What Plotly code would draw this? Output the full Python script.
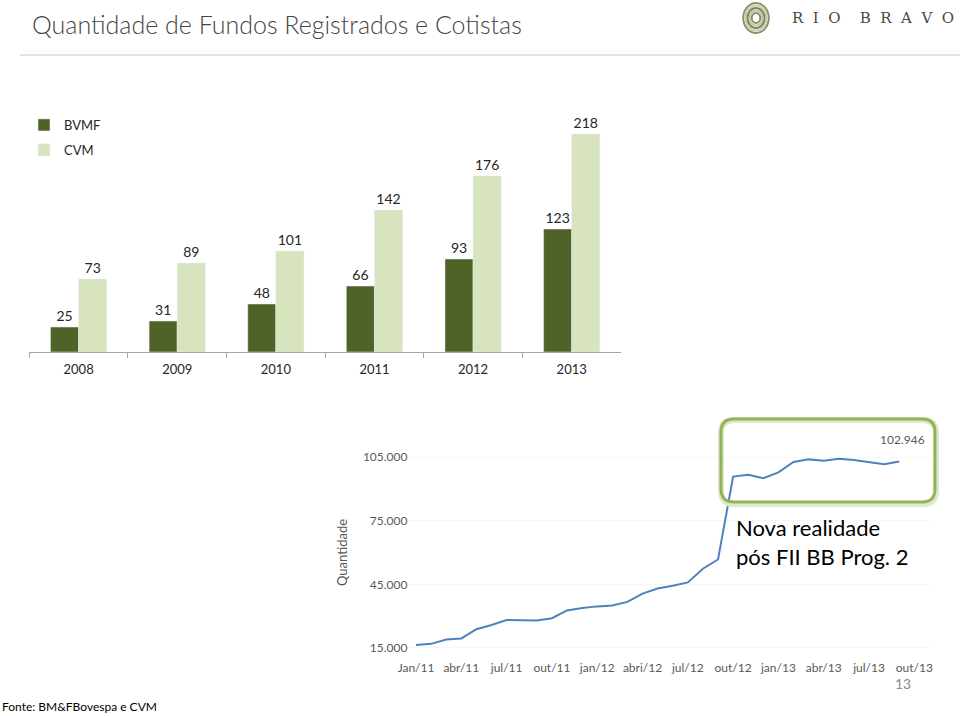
import plotly.graph_objects as go

# ---------------- data ----------------
years = ["2008", "2009", "2010", "2011", "2012", "2013"]
bvmf = [25, 31, 48, 66, 93, 123]
cvm = [73, 89, 101, 142, 176, 218]

months = ["Jan/11", "fev/11", "mar/11", "abr/11", "mai/11", "jun/11", "jul/11", "ago/11", "set/11",
          "out/11", "nov/11", "dez/11", "jan/12", "fev/12", "mar/12", "abri/12", "mai/12", "jun/12",
          "jul/12", "ago/12", "set/12", "out/12", "nov/12", "dez/12", "jan/13", "fev/13", "mar/13",
          "abr/13", "mai/13", "jun/13", "jul/13", "ago/13", "set/13", "out/13"]
cotistas = [16450, 16930, 19000, 19500, 23850, 25800, 28200, 28200, 28000, 29000, 32700,
            33800, 34600, 35000, 36700, 40600, 43000, 44300, 45900, 52350, 56700, 95800,
            96600, 95000, 97750, 102700, 103900, 103200, 104200, 103600, 102700, 101600, 102946]
line_ticks = [15000, 45000, 75000, 105000]

W, H = 960, 716


def px(x):
    return x / W


def py(y):
    return 1 - y / H


def rounded_rect(x0, y0, x1, y1, r):
    rx, ry = r / W, r / H
    X0, X1 = px(x0), px(x1)
    Y0, Y1 = py(y0), py(y1)  # Y0 top, Y1 bottom
    return (f"M {X0+rx},{Y0} L {X1-rx},{Y0} Q {X1},{Y0} {X1},{Y0-ry} "
            f"L {X1},{Y1+ry} Q {X1},{Y1} {X1-rx},{Y1} "
            f"L {X0+rx},{Y1} Q {X0},{Y1} {X0},{Y1+ry} "
            f"L {X0},{Y0-ry} Q {X0},{Y0} {X0+rx},{Y0} Z")


fig = go.Figure()

label_font = dict(family="Lato, Carlito, sans-serif", size=14, color="#262626")

fig.add_trace(go.Bar(x=years, y=bvmf, name="BVMF", marker_color="#4f6228",
                     text=bvmf, textposition="outside", textfont=label_font,
                     cliponaxis=False, legendgroup="a", xaxis="x", yaxis="y"))
fig.add_trace(go.Bar(x=years, y=cvm, name="CVM", marker_color="#d7e4bd",
                     text=cvm, textposition="outside", textfont=label_font,
                     cliponaxis=False, legendgroup="b", xaxis="x", yaxis="y"))

xi = list(range(len(cotistas)))
fig.add_trace(go.Scatter(x=xi, y=cotistas, mode="lines", line=dict(color="#4f81bd", width=2),
                         showlegend=False, xaxis="x2", yaxis="y2"))

gray = "#595959"
tick_font = dict(family="Lato, sans-serif", size=12, color=gray)

fig.update_layout(
    width=W, height=H, margin=dict(l=0, r=0, t=0, b=0, autoexpand=False),
    paper_bgcolor="white", plot_bgcolor="white",
    separators=",.",
    barmode="group", bargap=0.43, bargroupgap=0,
    showlegend=True,
    legend=dict(x=px(24), y=py(110), xanchor="left", yanchor="top",
                font=dict(family="Lato, sans-serif", size=13, color="#262626"),
                tracegroupgap=5, bgcolor="rgba(0,0,0,0)", itemclick=False),
    xaxis=dict(domain=[px(29.3), px(621)], type="category", showline=True, linecolor="#a6a6a6",
               ticks="outside", tickson="boundaries", tickcolor="#a6a6a6", ticklen=5,
               ticklabelstandoff=5, automargin=False,
               tickfont=dict(family="Lato, sans-serif", size=13, color="#262626"),
               showgrid=False, anchor="y"),
    yaxis=dict(domain=[py(352), py(102)], range=[0, 250], visible=False, showgrid=False,
               automargin=False, anchor="x"),
    xaxis2=dict(domain=[px(408.5), px(929.4)], range=[-0.5, 34], tickmode="array",
                tickvals=list(range(0, len(months), 3)), ticktext=months[::3],
                showline=False, showgrid=False, zeroline=False, ticks="",
                ticklabelstandoff=7, automargin=False,
                tickfont=tick_font, anchor="y2"),
    yaxis2=dict(domain=[py(652.2), py(452.8)], range=[13000, 107000], tickmode="array",
                tickvals=line_ticks, tickformat=",d", tickfont=tick_font,
                showgrid=True, gridcolor="#f6f6f6", zeroline=False, showline=False,
                automargin=False,
                title=dict(text="Quantidade", font=dict(family="Lato, sans-serif", size=13, color=gray),
                           standoff=12),
                anchor="x2"),
)

last = cotistas[-1]
annotations = [
    dict(text="Quantidade de Fundos Registrados e Cotistas", x=px(30), y=py(24), xref="paper",
         yref="paper", xanchor="left", yanchor="middle", showarrow=False,
         font=dict(family="Lato, sans-serif", size=25, color="#454545", weight=300)),
    dict(text="R&nbsp;&nbsp;I&nbsp;&nbsp;O&nbsp;&nbsp;&nbsp;&nbsp;B&nbsp;&nbsp;R&nbsp;&nbsp;A&nbsp;&nbsp;V&nbsp;&nbsp;O",
         x=px(790), y=py(18), xref="paper", yref="paper", xanchor="left", yanchor="middle",
         showarrow=False, font=dict(family="DejaVu Serif, Liberation Serif, serif", size=15, color="#4a4a3a")),
    dict(text=f"{last:,}".replace(",", "."), x=xi[-1], y=last, xref="x2", yref="y2",
         xanchor="center", yanchor="bottom", yshift=12, xshift=3, showarrow=False,
         font=dict(family="Lato, sans-serif", size=12, color=gray)),
    dict(text="Nova realidade<br>pós FII BB Prog. 2", x=px(734), y=py(542), xref="paper",
         yref="paper", xanchor="left", yanchor="middle", align="left", showarrow=False,
         font=dict(family="Lato, sans-serif", size=22, color="#000000")),
    dict(text="13", x=px(903), y=py(683), xref="paper", yref="paper", xanchor="center",
         yanchor="middle", showarrow=False, font=dict(family="Lato, sans-serif", size=14, color="#8c8c8c")),
    dict(text="Fonte: BM&FBovespa e CVM", x=0, y=py(706), xref="paper", yref="paper",
         xanchor="left", yanchor="middle", showarrow=False,
         font=dict(family="Lato, sans-serif", size=12, color="#000000")),
]
fig.update_layout(annotations=annotations)

shapes = [
    dict(type="line", xref="paper", yref="paper", x0=px(20), x1=1, y0=py(55), y1=py(55),
         line=dict(color="#c8c8c8", width=1)),
    dict(type="path", xref="paper", yref="paper", path=rounded_rect(721, 420, 936, 504, 13),
         line=dict(color="#dfe8cc", width=6)),
    dict(type="path", xref="paper", yref="paper", path=rounded_rect(721, 419, 935, 502, 13),
         line=dict(color="#92b456", width=3)),
]
# logo swirl
cx, cy = 756, 18
for r, c in [(15, "#8c9163"), (12.5, "#c9ccb0"), (10, "#7d8354"), (7.5, "#c2c6a6"), (5, "#8c9163")]:
    shapes.append(dict(type="circle", xref="paper", yref="paper",
                       x0=px(cx - r * 0.85), x1=px(cx + r * 0.85), y0=py(cy + r), y1=py(cy - r),
                       line=dict(color=c, width=2)))
fig.update_layout(shapes=shapes)

fig.write_html("out.html", config={"displayModeBar": False},
               post_script="document.body.style.margin='0';document.body.style.overflow='hidden';")
